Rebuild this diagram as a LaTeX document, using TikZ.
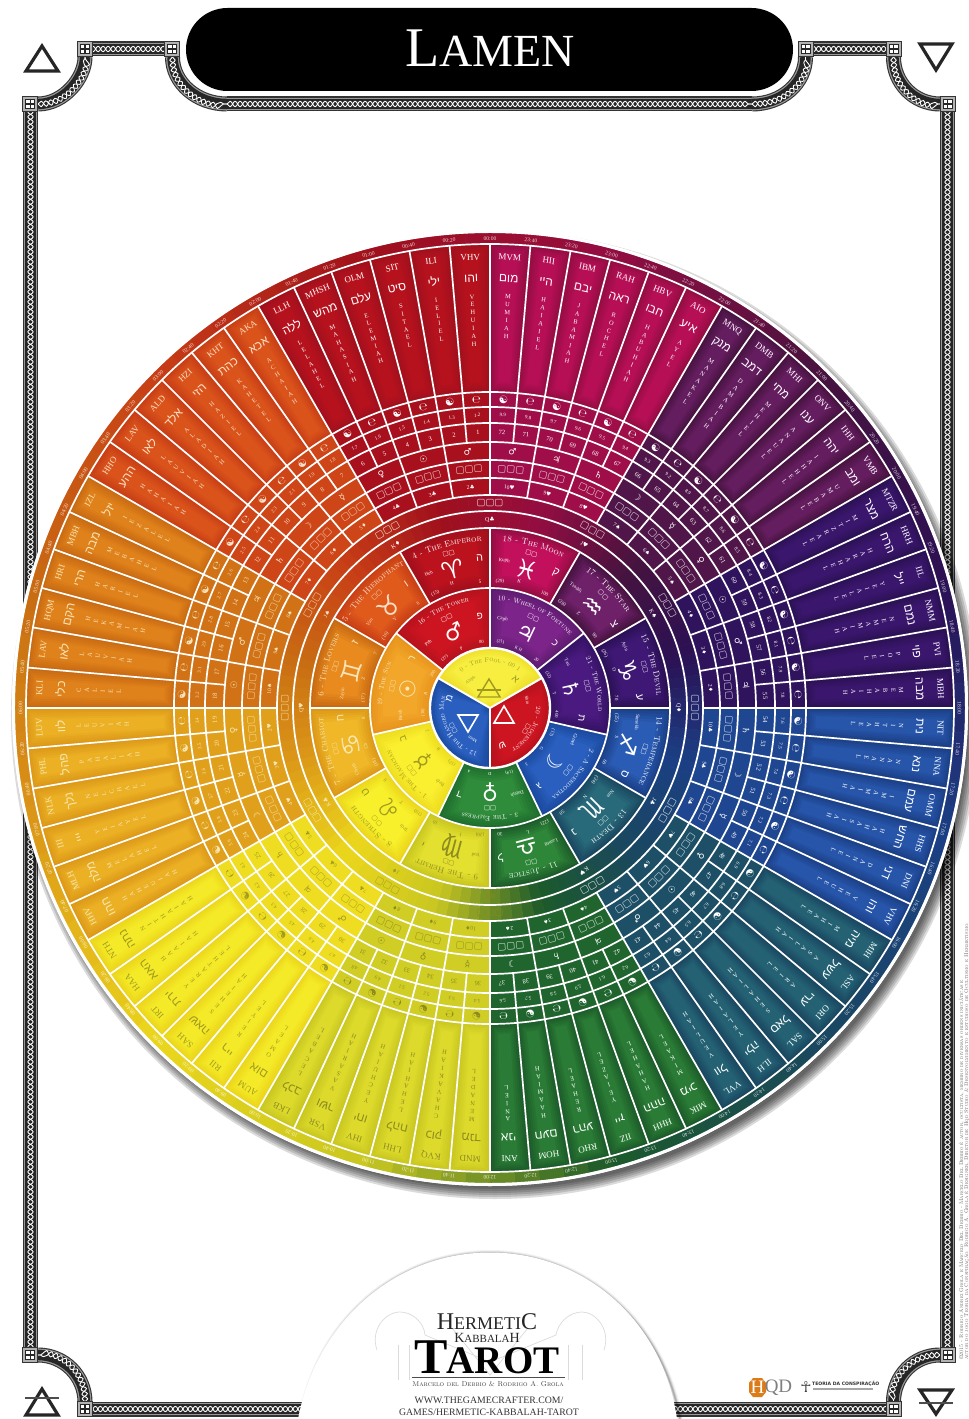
\documentclass[tikz,border=0pt]{standalone}
\usepackage{fontspec}
\usetikzlibrary{decorations.text,decorations.pathmorphing}
\TeXXeTstate=1
\newfontfamily\hebfont[Script=Hebrew]{Liberation Sans}
\newfontfamily\symfont{DejaVu Sans}
\newfontfamily\serfont{Liberation Serif}
\newcommand\fs[1]{\fontsize{#1}{#1}\selectfont}
\newcommand\heb[1]{{\hebfont\beginR #1\endR}}
% sector colours: edge, centre, text
\newcommand\defsec[4]{\definecolor{se#1}{HTML}{#2}\definecolor{sc#1}{HTML}{#3}\definecolor{st#1}{HTML}{#4}}
\defsec{0}{930D42}{C2105C}{FFFFFF}
\defsec{1}{46133F}{6E2069}{FFFFFF}
\defsec{2}{2B1154}{3F1876}{FFFFFF}
\defsec{3}{1B3F85}{2A5CB5}{FFFFFF}
\defsec{4}{1A4760}{286A7A}{FFFFFF}
\defsec{5}{1C5A2A}{2E8638}{FFFFFF}
\defsec{6}{C9C720}{E4E030}{8C8A20}
\defsec{7}{EBD61C}{F8F02A}{A09A20}
\defsec{8}{DC9818}{F0B828}{F7E7B0}
\defsec{9}{C86A12}{E88A1E}{F8E4B8}
\defsec{10}{C83E16}{E05A1C}{FBE0C8}
\defsec{11}{A0101C}{BC121E}{FFFFFF}
\defsec{A}{5E1C70}{7C2489}{FFFFFF}
\defsec{B}{361364}{4A1A80}{FFFFFF}
\defsec{C}{1B4A9E}{2A5FBF}{FFFFFF}
\defsec{D}{1F6E2E}{2F8C3A}{FFFFFF}
\defsec{E}{EEDD20}{FBF030}{A09A20}
\defsec{F}{E8941C}{F2A62A}{FBEBC0}
\defsec{G}{B5121E}{CC1520}{FFFFFF}
\defsec{H}{EEDF2A}{F7EE40}{A09A20}
\newcommand\annsec[5]{\path[#5] ({90-(#1)}:#3) arc[start angle={90-(#1)},end angle={90-(#2)},radius=#3] -- ({90-(#2)}:#4) arc[start angle={90-(#2)},end angle={90-(#1)},radius=#4] -- cycle;}
\newcommand\bevelstep{1.5}
\newcommand\bevel[6]{\foreach \kk in {0,...,5}{%
  \pgfmathsetmacro\dd{\kk*\bevelstep}%
  \pgfmathsetmacro\ri{#4+\dd}\pgfmathsetmacro\ro{#3-\dd}%
  \pgfmathsetmacro\da{\dd/(((#3)+(#4))/2)*57.3}%
  \pgfmathsetmacro\ta{(#1)+\da}\pgfmathsetmacro\tb{(#2)-\da}%
  \pgfmathtruncatemacro\pc{\kk*20}%
  \annsec{\ta}{\tb}{\ro}{\ri}{fill=#6!\pc!#5}}}
\newcommand\arctext[6]{\path[decorate,decoration={text along path,text align=center,text={|\fs{#6}\scshape\color{#5}|#4}}] ({90-(#1)}:#3) arc[start angle={90-(#1)},end angle={90-(#2)},radius=#3];}
\def\stackA#1{\ifx#1\relax\else\hbox to 8pt{\hss\vrule height 6.5pt depth 1.5pt width 0pt #1\hss}\expandafter\stackA\fi}
\newcommand\vstack[1]{\vbox{\offinterlineskip\expandafter\stackA#1\relax}}
\newcommand\suit[1]{\ifcase#1 ♣\or ♦\or ♠\or ♥\fi}
\newcommand\planetg[1]{\ifcase#1 ♂\or ☉\or ♀\or ☿\or ☽\or ♄\or ♃\fi}
\newcommand\court[1]{\ifcase#1 Q\or K\or J\fi}
\tikzset{lab/.style={inner sep=0pt,outer sep=0pt,anchor=center},
 white line/.style={draw=white,line width=1.7}}
\newcommand\zodw[9]{%
 \renewcommand\bevelstep{2.6}%
 \bevel{#1}{(#1)+30}{180}{120}{se#2}{sc#2}%
 \arctext{(#1)+0.5}{(#1)+29.5}{167}{#3}{st#2}{8.4}%
 \node[lab,text=st#2,rotate={-((#1)+15)}] (zicon#1) at ({90-((#1)+15)}:160) {\symfont\fs{6.5}▢▢};
 \node[lab,text=st#2,rotate={-((#1)+15)}] (zsym#1) at ({90-((#1)+15)}:143) {\symfont\fs{25}#4};
 \node[lab,text=st#2,rotate={-((#1)+5.5)}] (zname#1) at ({90-((#1)+5.5)}:148) {\serfont\fs{5}#5};
 \node[lab,text=st#2,rotate={-((#1)+26)}] (zheb#1) at ({90-((#1)+26)}:150) {\hebfont\fs{11}\heb{#6}};
 \node[lab,text=st#2,rotate={-((#1)+4.5)}] (zn#1) at ({90-((#1)+4.5)}:127) {\serfont\fs{5}#7};
 \node[lab,text=st#2,rotate={-((#1)+13)}] (zl#1) at ({90-((#1)+13)}:130) {\serfont\fs{5}#8};
 \node[lab,text=st#2,rotate={-((#1)+25.5)}] (zv#1) at ({90-((#1)+25.5)}:127) {\serfont\fs{5}#9};
}
\newcommand\planw[9]{%
 \renewcommand\bevelstep{2.6}%
 \bevel{#1}{(#1)+51.43}{120}{60}{se#2}{sc#2}%
 \arctext{(#1)+0.5}{(#1)+50.9}{108}{#3}{st#2}{6.9}%
 \node[lab,text=st#2,rotate={-((#1)+25.7)}] (picon#2) at ({90-((#1)+25.7)}:100) {\symfont\fs{6.5}▢▢};
 \node[lab,text=st#2,rotate={-((#1)+25.7)}] (psym#2) at ({90-((#1)+25.7)}:84) {\symfont\fs{22}#4};
 \node[lab,text=st#2,rotate={-((#1)+8)}] (pname#2) at ({90-((#1)+8)}:90) {\serfont\fs{5}#5};
 \node[lab,text=st#2,rotate={-((#1)+45)}] (pheb#2) at ({90-((#1)+45)}:92) {\hebfont\fs{10}\heb{#6}};
 \node[lab,text=st#2,rotate={-((#1)+9)}] (pn#2) at ({90-((#1)+9)}:67) {\serfont\fs{4.6}#7};
 \node[lab,text=st#2,rotate={-((#1)+25.7)}] (pl#2) at ({90-((#1)+25.7)}:66) {\serfont\fs{4.6}#8};
 \node[lab,text=st#2,rotate={-((#1)+44)}] (pv#2) at ({90-((#1)+44)}:67) {\serfont\fs{4.6}#9};
}
\newcommand\band[1]{%
 \draw[line width=15,draw=black!80] #1;
 \draw[line width=12.8,draw=black!40] #1;
 \draw[line width=10.4,draw=black!85] #1;
 \draw[white,line width=.9,decorate,decoration={snake,segment length=10,amplitude=2.7}] #1;
 \draw[white,line width=.9,decorate,decoration={snake,segment length=10,amplitude=2.7,mirror}] #1;}
\newcommand\frsq[2]{%
 \fill[black!80] (#1-8,#2-8) rectangle (#1+8,#2+8);
 \fill[black!30] (#1-7,#2-7) rectangle (#1+7,#2+7);
 \fill[black!85] (#1-5,#2-5) rectangle (#1+5,#2+5);
 \fill[white] (#1-4,#2-4) rectangle (#1-.6,#2-.6);
 \fill[white] (#1+.6,#2-4) rectangle (#1+4,#2-.6);
 \fill[white] (#1-4,#2+.6) rectangle (#1-.6,#2+4);
 \fill[white] (#1+.6,#2+.6) rectangle (#1+4,#2+4);}
\begin{document}
\begin{tikzpicture}[x=1pt,y=1pt]
\useasboundingbox (-490,-711) rectangle (479,708);
\fill[white] (-490,-711) rectangle (479,708);
%%%% frame, in pixel coordinates
\begin{scope}[shift={(-490,708)},yscale=-1]
\band{(30.5,1355) -- (30.5,104)}
\band{(38,104) .. controls (64,104) and (85,78) .. (85,57)}
\band{(85,49) -- (172.5,49)}
\band{(172.5,57) .. controls (172.5,83) and (197,104) .. (227,104)}
\band{(227,104) -- (752,104)}
\band{(752,104) .. controls (782,104) and (805.5,83) .. (805.5,57)}
\band{(805.5,49) -- (893.5,49)}
\band{(893.5,57) .. controls (893.5,83) and (914,104) .. (940,104)}
\band{(947.5,104) -- (947.5,1355)}
\band{(940,1355) .. controls (914,1355) and (893.5,1376) .. (893.5,1402)}
\band{(893.5,1409) -- (85,1409)}
\band{(85,1402) .. controls (85,1376) and (64,1355) .. (38,1355)}
\frsq{30.5}{104}\frsq{85}{49}\frsq{172.5}{49}\frsq{805.5}{49}\frsq{893.5}{49}
\frsq{947.5}{104}\frsq{947.5}{1355}\frsq{893.5}{1409}\frsq{85}{1409}\frsq{30.5}{1355}
% pill
\fill[white,rounded corners=44] (183,5) rectangle (796,94);
\fill[black,rounded corners=41.5] (186,8) rectangle (793,91);
\node[text=white,inner sep=0pt] (title) at (490,48) {\serfont{\fs{56}L}{\fs{46}AMEN}};
% corner triangles
\draw[black!85,line width=3.2,line join=miter] (42,46) -- (58,71) -- (26,71) -- cycle;
\draw[black!85,line width=3.2,line join=miter] (920,44) -- (952,44) -- (936,70) -- cycle;
\draw[black!85,line width=3.2,line join=miter] (42,1389) -- (58,1415) -- (26,1415) -- cycle;
\draw[black!70,line width=1.2] (25,1398) -- (59,1398);
\draw[black!85,line width=3.2,line join=miter] (920,1390) -- (952,1390) -- (936,1414) -- cycle;
\draw[black!70,line width=1.2] (919,1403) -- (953,1403);
% dome
\foreach \q/\w in {6/.05,4/.07,2.5/.1,1.2/.15}{\draw[black,opacity=\w,line width=\q] (301,1419) .. controls (318,1320) and (397,1253) .. (490,1253) .. controls (583,1253) and (662,1320) .. (680,1419);}
\fill[white] (298,1419) .. controls (317,1320) and (396,1252.5) .. (490,1252.5) .. controls (584,1252.5) and (663,1320) .. (677,1419) -- cycle;
% faint pillars and domes of the logo
\begin{scope}[black!14,line width=.7]
\draw (377,1350) .. controls (370,1330) and (385,1312) .. (400,1312) .. controls (412,1312) and (424,1322) .. (425,1335);
\draw (398,1345) -- (398,1380) (409,1345) -- (409,1380);
\draw (604,1350) .. controls (611,1330) and (596,1312) .. (582,1312) .. controls (570,1312) and (558,1322) .. (556,1335);
\draw (568,1345) -- (568,1380) (582,1345) -- (582,1380);
\draw (425,1335) -- (490,1362) -- (556,1335) (452,1328) -- (490,1375) -- (528,1328);
\end{scope}
% logo text
\node[text=black!85,inner sep=0pt] (hermetic) at (487,1322) {\serfont{\fs{24}H}{\fs{18}ERMETI}{\fs{24}C}};
\node[text=black!85,inner sep=0pt] (kabbalah) at (487,1338) {\serfont{\fs{14}K}{\fs{11}ABBALA}{\fs{14}H}};
\node[text=black,inner sep=0pt] (tarot) at (487,1357) {\serfont\bfseries{\fs{50}T}\kern-1pt{\fs{39}AROT}};
\draw[black!70,line width=.5] (412,1377) -- (565,1377);
\node[text=black!75,inner sep=0pt] (authors) at (488,1384) {\fs{7.1}\scshape Marcelo del Debbio \& Rodrigo A. Grola};
\node[text=black!80,inner sep=0pt] (www1) at (489,1400) {\serfont\fs{9.8}WWW.THEGAMECRAFTER.COM/};
\node[text=black!80,inner sep=0pt] (www2) at (489,1412) {\serfont\fs{9.8}GAMES/HERMETIC-KABBALAH-TAROT};
% hqd logo
\fill[orange!85!black!90] (753,1378) -- (762,1378) -- (766,1383) -- (766,1392) -- (762,1397) -- (753,1397) -- (749,1392) -- (749,1383) -- cycle;
\node[text=white,inner sep=0pt] (hqdh) at (757.5,1387.5) {\serfont\fs{19}H};
\node[text=black!50,inner sep=0pt] (hqdqd) at (778.5,1387.5) {\serfont\fs{19}QD};
\node[text=black!75,inner sep=0pt] (ankh) at (806,1387) {\symfont\fs{15}☥};
\node[text=black!80,inner sep=0pt,anchor=west] (teoria) at (812,1383.5) {\symfont\bfseries\fs{4.6}TEORIA DA CONSPIRAÇÃO};
\draw[black!35,line width=1.1] (813,1389) -- (873,1389);
% vertical credit
\node[text=black!60,inner sep=0pt,anchor=west,rotate=90] (credit1) at (961.5,1360) {\fs{5.4}\scshape ©2015 - Rodrigo Andrei Grola e Marcelo Del Debbio - Marcelo Del Debbio é autor, ocultista, membro de diversas ordens iniciáticas e};
\node[text=black!60,inner sep=0pt,anchor=west,rotate=90] (credit2) at (966.5,1360) {\fs{5.5}\scshape autor do jogo Teoria da Conspiração. Rodrigo A. Grola é Designer, Diretor de Hqd Studio \& Desenvolvimento e estudioso de Ocultismo e Hermetismo.};
\end{scope}
%%%% wheel shadow and base
\foreach \rr in {484,482,480,478,476,474,470}{\fill[black,opacity=.14] (5,-7) circle (\rr);}
\fill[white] (0,0) circle (478);
%%%% conic rings
\foreach \k in {0,...,119}{
 \pgfmathsetmacro\uu{mod(3*\k+1.5-15+360,360)/30}
 \pgfmathtruncatemacro\sa{floor(\uu)}
 \pgfmathtruncatemacro\sb{mod(\sa+1,12)}
 \pgfmathtruncatemacro\fr{(\uu-\sa)*100}
 \colorlet{ringcol}{se\sb!\fr!se\sa}
 \pgfmathsetmacro\ta{3*\k}\pgfmathsetmacro\tb{3*\k+3}
 \annsec{\ta}{\tb}{213}{180}{fill=ringcol,draw=ringcol,line width=.5}
 \annsec{\ta}{\tb}{475}{464}{fill=ringcol,draw=ringcol,line width=.5}
}
%%%% sector fill of small rings
\foreach \sn in {0,...,11}{
 \pgfmathsetmacro\ta{30*\sn}\pgfmathsetmacro\tb{30*\sn+30}
 \annsec{\ta}{\tb}{316}{213}{fill=sc\sn!25!se\sn}
}
%%%% names band
\renewcommand\bevelstep{2}
\foreach \ci in {0,...,71}{
 \pgfmathsetmacro\tha{360-5*\ci-5}\pgfmathsetmacro\thb{360-5*\ci}
 \pgfmathtruncatemacro\sn{\tha/30}
 \bevel{\tha}{\thb}{464}{316}{se\sn}{sc\sn!75!se\sn}
}
%%%% zodiac wedges
\zodw{0}{0}{18 - The Moon}{♓}{Kuph}{ק}{(29)}{K}{100}
\zodw{30}{1}{17 - The Star}{♒}{Tzaddi}{צ}{(28)}{Z}{90}
\zodw{60}{2}{15 - The Devil}{♑}{Ayin}{ע}{(26)}{O}{70}
\zodw{90}{3}{14 - Temperance}{♐}{Samekh}{ס}{(25)}{S}{60}
\zodw{120}{4}{13 - Death}{♏}{Nun}{נ}{(24)}{N}{50}
\zodw{150}{5}{11 - Justice}{♎}{Lamed}{ל}{(22)}{L}{30}
\zodw{180}{6}{9 - The Hermit}{♍}{Yod}{י}{(20)}{I}{10}
\zodw{210}{7}{8 - Strength}{♌}{Teth}{ט}{(19)}{T}{9}
\zodw{240}{8}{7 - The Chariot}{♋}{Cheth}{ח}{(18)}{Ch}{8}
\zodw{270}{9}{6 - The Lovers}{♊}{Zayin}{ז}{(17)}{Z}{7}
\zodw{300}{10}{5 - The Hierophant}{♉}{Vau}{ו}{(16)}{V}{6}
\zodw{330}{11}{4 - The Emperor}{♈}{Heh}{ה}{(15)}{H}{5}
%%%% planet wedges
\planw{0}{A}{10 - Wheel of Fortune}{♃}{Caph}{כ}{(21)}{K H}{20}
\planw{51.43}{B}{21 - The World}{♄}{Tau}{ת}{(32)}{T}{400}
\planw{102.86}{C}{2 - A Sacerdotisa}{☽}{Gimel}{ג}{(13)}{G}{3}
\planw{154.29}{D}{3 - The Empress}{♀}{Daleth}{ד}{(14)}{D}{4}
\planw{205.71}{E}{1 - The Magician}{☿}{Beth}{ב}{(12)}{B}{2}
\planw{257.14}{F}{19 - The Sun}{☉}{Resh}{ר}{(30)}{R}{200}
\planw{308.57}{G}{16 - The Tower}{♂}{Peh}{פ}{(27)}{P}{80}
%%%% centre
\renewcommand\bevelstep{1.6}
\bevel{300}{420}{60}{1}{seH}{scH}
\bevel{60}{180}{60}{1}{seG}{scG}
\bevel{180}{300}{60}{1}{seC}{scC}
\arctext{305}{415}{46}{0 - The Fool - 00 1}{stH}{6.4}
\arctext{63}{177}{46}{20 - Judgement}{stG}{6.6}
\arctext{183}{297}{46}{12 - The Hanged Man}{stC}{6.4}
\node[lab,text=stH,rotate=35] (fname) at ({90+35}:34) {\serfont\fs{4.5}Aleph};
\node[lab,text=stH,rotate=-42] (fheb) at ({90-42}:38) {\hebfont\fs{10}\heb{א}};
\node[lab,text=stG,rotate=-78] (jname) at ({90-78}:38) {\serfont\fs{4.5}Shin};
\node[lab,text=stG,rotate=-120] (jicon) at ({90-120}:42) {\symfont\fs{6}▢▢};
\node[lab,text=stG,rotate=-162] (jheb) at ({90-162}:39) {\hebfont\fs{10}\heb{ש}};
\node[lab,text=stC,rotate=-209] (mname) at ({90-209}:36) {\serfont\fs{4.5}Mem};
\node[lab,text=stC,rotate=-241] (micon) at ({90-241}:42) {\symfont\fs{6}▢▢};
\node[lab,text=stC,rotate=-283] (mheb) at ({90-283}:42) {\hebfont\fs{10}\heb{מ}};
\begin{scope}[shift={(-490,708)},yscale=-1,line join=miter]
\draw[color=stH,line width=1.4] (489,679) -- (500,697) -- (478,697) -- cycle;
\draw[color=stH,line width=1.1] (477,690) -- (501,690);
\draw[white,line width=1.6] (504,706) -- (514,723) -- (494,723) -- cycle;
\draw[white,line width=1.6] (458,715) -- (478,715) -- (468,732) -- cycle;
\end{scope}
%%%% white lines
\foreach \rr in {120,180,197,213,230,248,266,285,301,316,464}{\draw[white line] (0,0) circle (\rr);}
\draw[white,line width=2.4] (0,0) circle (60);
\draw[white,line width=3] (0,0) circle (476.5);
\foreach \k in {0,...,71}{
 \pgfmathsetmacro\ta{5*\k}
 \ifodd\k \draw[white line] ({90-\ta}:266) -- ({90-\ta}:464);
 \else \draw[white line] ({90-\ta}:213) -- ({90-\ta}:464); \fi
}
\foreach \k in {0,...,11}{\pgfmathsetmacro\ta{30*\k}\draw[white line] ({90-\ta}:120) -- ({90-\ta}:180);}
\foreach \k in {0,...,6}{\pgfmathsetmacro\ta{360/7*\k}\draw[white line] ({90-\ta}:60) -- ({90-\ta}:120);}
\foreach \ta in {60,180,300}{\draw[white,line width=2] (0,0) -- ({90-\ta}:60);}
%%%% name-band text
\foreach \ab/\he/\nm [count=\ci from 0] in {VHV/והו/VEHUIAH,ILI/ילי/IELIEL,SIT/סיט/SITAEL,OLM/עלם/ELEMIAH,MHSH/מהש/MAHASIAH,LLH/ללה/LELAHEL,AKA/אכא/ACHAIAH,KHT/כהת/KAHETEL,HZI/הזי/HAZIEL,ALD/אלד/ALADIAH,LAV/לאו/LAUVIAH,HHO/ההע/HAHAIAH,IZL/יזל/IEZALEL,MBH/מבה/MEBAHEL,HRI/הרי/HARIEL,HQM/הקם/HEKAMIAH,LAV/לאו/LAUVIAH,KLI/כלי/CALIEL,LUV/לוו/LEUVIAH,PHL/פהל/PAHALIAH,NLK/נלך/NELCHAEL,III/ייי/YEIAYEL,MLH/מלה/MELAHEL,HHV/חהו/HAHEUIAH,NTH/נתה/NITHAIAH,HAA/האא/HAAIAH,IRT/ירת/YERATHEL,SAH/שאה/SEHEIAH,RII/ריי/REIYEL,AUM/אום/OMAEL,LKB/לכב/LECABEL,VSR/ושר/VASARIAH,IHV/יחו/YECHUIAH,LHH/להח/LEHAHIAH,KVQ/כוק/CHAVAKIAH,MND/מנד/MENADEL,ANI/אני/ANIEL,HOM/חעם/HAAMIAH,RHO/רהע/REHAEL,IIZ/ייז/YEIAZEL,HHH/ההה/HAHAHEL,MIK/מיכ/MIKAEL,VVL/וול/VEULIAH,ILH/ילה/YELAIAH,SAL/סאל/SEHALIAH,ORI/ערי/ARIEL,ASL/עשל/ASALIAH,MIH/מיה/MIHAEL,VHV/והו/VEHUEL,DNI/דני/DANIEL,HHS/החש/HAHASIAH,OMM/עמם/IMAMIAH,NNA/ננא/NANAEL,NIT/נית/NITHAEL,MBH/מבה/MEBAHIAH,PVI/פוי/POIEL,NMM/נמם/NEMAMIAH,IIL/ייל/YEIALEL,HRH/הרח/HARAHEL,MTZR/מצר/MITZRAEL,VMB/ומב/UMABEL,IHH/יהה/IAHHEL,ONV/ענו/ANAUEL,MHI/מחי/MEHIEL,DMB/דמב/DAMABIAH,MNQ/מנק/MANAKEL,AIO/איע/AYEL,HBV/חבו/HABUHIAH,RAH/ראה/ROCHEL,IBM/יבם/JABAMIAH,HII/היי/HAIAIEL,MVM/מום/MUMIAH}{
 \pgfmathsetmacro\tht{360-5*\ci-2.5}
 \pgfmathtruncatemacro\sn{\tht/30}
 \pgfmathsetmacro\rt{-\tht}
 \node[lab,text=st\sn,rotate=\rt] (abbr\ci) at ({90-\tht}:451) {\serfont\fs{9}\ab};
 \node[lab,text=st\sn,rotate=\rt] (hebn\ci) at ({90-\tht}:430) {\hebfont\fs{12}\heb{\he}};
 \node[lab,text=st\sn,rotate=\rt,anchor=north] (angel\ci) at ({90-\tht}:416) {\serfont\fs{6.4}\vstack{\nm}};
}
%%%% 5 degree rings and time ring
\foreach \i in {0,...,71}{
 \pgfmathsetmacro\tht{360-5*\i-2.5}
 \pgfmathtruncatemacro\sn{\tht/30}
 \pgfmathsetmacro\rt{-\tht}
 \pgfmathtruncatemacro\aa{1+int(\i/8)}
 \pgfmathtruncatemacro\bb{mod(\i,8)+1}
 \ifnum\aa=9 \pgfmathtruncatemacro\bb{\bb+1}\else\ifnum\bb<\aa\else\pgfmathtruncatemacro\bb{\bb+1}\fi\fi
 \pgfmathtruncatemacro\nn{\i+1}
 \node[lab,text=st\sn,rotate=\rt] (yy\i) at ({90-\tht}:308.5) {\symfont\fs{10.5}\ifodd\i ☯\else ℮\fi};
 \node[lab,text=st\sn,rotate=\rt] (dec\i) at ({90-\tht}:293) {\serfont\fs{5}\aa.\bb};
 \node[lab,text=st\sn,rotate=\rt] (num\i) at ({90-\tht}:275.5) {\serfont\fs{6.5}\nn};
 \pgfmathsetmacro\tbd{360-5*\i}
 \pgfmathsetmacro\rb{-\tbd}
 \pgfmathtruncatemacro\hh{int(\i/3)}
 \pgfmathtruncatemacro\mm{mod(\i,3)*20}
 \node[lab,text=white,opacity=.8,rotate=\rb] (tm\i) at ({90-\tbd}:469.5) {\serfont\fs{5.6}\ifnum\hh<10 0\fi\hh:\ifnum\mm<10 0\fi\mm};
}
%%%% 10 degree rings
\foreach \j in {0,...,35}{
 \pgfmathsetmacro\tht{360-10*\j-5}
 \pgfmathtruncatemacro\sn{\tht/30}
 \pgfmathsetmacro\rt{-\tht}
 \pgfmathtruncatemacro\pl{mod(\j,7)}
 \pgfmathtruncatemacro\cn{2+mod(\j,9)}
 \pgfmathtruncatemacro\st{mod(int(\j/3),4)}
 \node[lab,text=st\sn,rotate=\rt] (pla\j) at ({90-\tht}:257) {\symfont\fs{9}\planetg{\pl}};
 \node[lab,text=st\sn,rotate=\rt,opacity=.8] (box\j) at ({90-\tht}:239) {\symfont\fs{9.5}▢▢▢};
 \node[lab,text=st\sn,rotate=\rt] (card\j) at ({90-\tht}:221.5) {\serfont\fs{5.6}\cn{\symfont\suit{\st}}};
}
%%%% court rings
\foreach \k in {0,...,11}{
 \pgfmathsetmacro\tht{mod(360-30*\k,360)}
 \pgfmathsetmacro\rt{-\tht}
 \pgfmathtruncatemacro\sn{mod(\tht+15,360)/30}
 \pgfmathtruncatemacro\cq{mod(\k,3)}
 \pgfmathtruncatemacro\st{mod(\k,4)}
 \node[lab,text=st\sn,rotate=\rt,opacity=.85] (cbox\k) at ({90-\tht}:205) {\symfont\fs{9.5}▢▢▢};
 \node[lab,text=st\sn,rotate=\rt] (cour\k) at ({90-\tht}:188.5) {\serfont\fs{6}\court{\cq}{\symfont\suit{\st}}};
}
\end{tikzpicture}
\end{document}
